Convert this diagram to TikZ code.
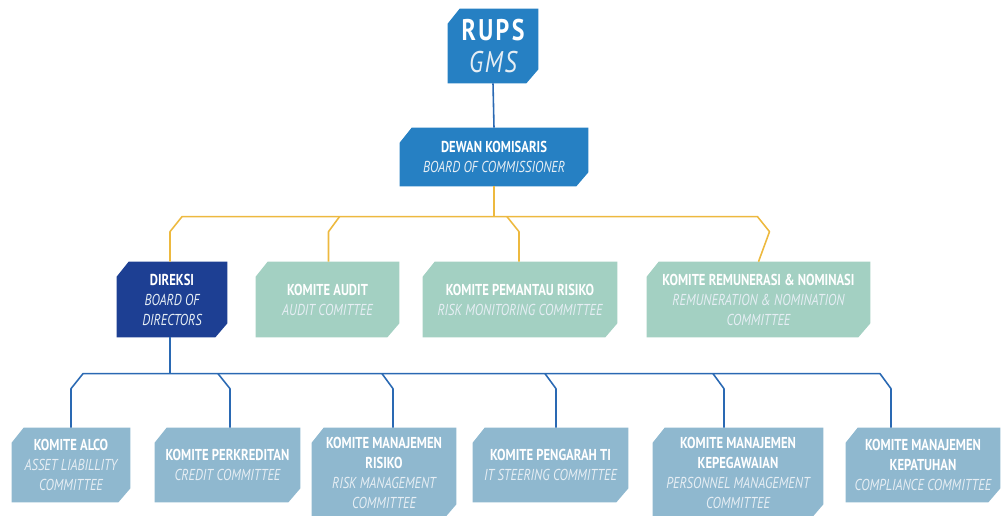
\documentclass[tikz,border=0pt]{standalone}
\usepackage{fontspec}
\setmainfont{PT Sans}[FakeStretch=0.8]
\usepackage{xcolor}
\usetikzlibrary{calc,backgrounds}
\definecolor{gms}{HTML}{2680C3}
\definecolor{dir}{HTML}{1D3F93}
\definecolor{teal}{HTML}{A3D0C2}
\definecolor{steel}{HTML}{8FB8CF}
\definecolor{gold}{HTML}{EDB93F}
\definecolor{wire}{HTML}{2A69B3}
\definecolor{soft}{HTML}{E6EEF4}
\newcommand{\hd}{\bfseries}
\newcommand{\engl}{\mdseries\itshape\color{soft}}
\newcommand{\chamf}[2]{%
  \begin{scope}[on background layer]
    \fill[#2] ($(#1.north west)+(0,15)$) -- ($(#1.north west)+(12,0)$) -- (#1.north east)
      -- ($(#1.south east)+(0,-14)$) -- ($(#1.south east)+(-12,0)$) -- (#1.south west) -- cycle;
  \end{scope}}
\tikzset{
  box/.style={inner sep=0pt, align=center, text=white, font=\fontsize{9}{11.4}\selectfont},
  up/.style={box, minimum height=1.5cm},
  low/.style={box, minimum height=1.48cm},
  tall/.style={box, minimum height=1.8cm},
  ylink/.style={draw=gold, line width=0.9pt, line join=round},
  blink/.style={draw=wire, line width=0.9pt, line join=round},
}

\begin{document}
\begin{tikzpicture}[x=0.02cm, y=-0.02cm]
  \useasboundingbox (0,0) rectangle (1001,515);

  % top
  \node[box, minimum width=1.8cm, minimum height=1.48cm] (rups) at (493,46)
    {{\fontsize{17}{18}\selectfont\bfseries\addfontfeature{LetterSpace=8}RUPS}\\[5pt]
     {\fontsize{17}{18}\selectfont\itshape\color{soft}\addfontfeature{LetterSpace=6}GMS}};
  \node[box, minimum width=3.76cm, minimum height=1.16cm] (dk) at (494,157)
    {\hd DEWAN KOMISARIS\\ \engl BOARD OF COMMISSIONER};

  % second row
  \node[up, minimum width=2.2cm] (direksi) at (172,299.5)
    {\hd DIREKSI\\ \engl BOARD OF\\ \engl DIRECTORS};
  \node[up, minimum width=2.86cm] (audit) at (327.5,299.5)
    {\hd KOMITE AUDIT\\ \engl AUDIT COMITTEE};
  \node[up, minimum width=3.88cm] (pantau) at (520,299.5)
    {\hd KOMITE PEMANTAU RISIKO\\ \engl RISK MONITORING COMMITTEE};
  \node[up, minimum width=4.46cm] (remun) at (758.5,299.5)
    {\hd KOMITE REMUNERASI \& NOMINASI\\ \engl REMUNERATION \& NOMINATION\\ \engl COMMITTEE};

  % third row
  \node[low, minimum width=2.36cm] (alco) at (71,465)
    {\hd KOMITE ALCO\\ \engl ASSET LIABILLITY\\ \engl COMMITTEE};
  \node[low, minimum width=2.9cm] (kredit) at (227.5,465)
    {\hd KOMITE PERKREDITAN\\ \engl CREDIT COMMITTEE};
  \node[tall, minimum width=2.88cm] (risiko) at (384,473)
    {\hd KOMITE MANAJEMEN\\ \hd RISIKO\\ \engl RISK MANAGEMENT\\ \engl COMMITTEE};
  \node[low, minimum width=3.1cm] (ti) at (550.5,465)
    {\hd KOMITE PENGARAH TI\\ \engl IT STEERING COMMITTEE};
  \node[tall, minimum width=3.4cm] (pegawai) at (738,473)
    {\hd KOMITE MANAJEMEN\\ \hd KEPEGAWAIAN\\ \engl PERSONNEL MANAGEMENT\\ \engl COMMITTEE};
  \node[low, minimum width=3.08cm] (patuh) at (923,465)
    {\hd KOMITE MANAJEMEN\\ \hd KEPATUHAN\\ \engl COMPLIANCE COMMITTEE};

  \foreach \n/\c in {rups/gms, dk/gms, direksi/dir, audit/teal, pantau/teal, remun/teal,
      alco/steel, kredit/steel, risiko/steel, ti/steel, pegawai/steel, patuh/steel}
    \chamf{\n}{\c};

  % connectors
  \draw[blink] (rups.south) -- (dk.north);
  \coordinate (ybus) at (494,217);
  \draw[ylink] (dk.south) -- (ybus);
  \draw[ylink] ($(direksi.north)+(-2,0)$) -- ++(0,-30) -- ++(12,-15) -- ($(remun.north)+(-1,-45)$)
    -- ++(12,15) -- (remun.north);
  \draw[ylink] ($(audit.north)+(1,0)$) -- ++(0,-30) -- ++(11,-15);
  \draw[ylink] ($(pantau.north)+(-1,0)$) -- ++(0,-30) -- ++(-12,-15);

  \coordinate (bbus) at (170,374);
  \draw[blink] ($(direksi.south)+(-2,0)$) -- (bbus);
  \draw[blink] (alco.north) -- ++(0,-39) -- ++(12,-15) -- ($(patuh.north)+(-43,-54)$)
    -- ++(11,15) -- ($(patuh.north)+(-32,0)$);
  \draw[blink] ($(kredit.north)+(2.5,0)$) -- ++(0,-39) -- ++(-12,-15);
  \draw[blink] ($(risiko.north)+(9,0)$) -- ++(0,-39) -- ++(-11,-15);
  \draw[blink] ($(ti.north)+(5.5,0)$) -- ++(0,-39) -- ++(-11,-15);
  \draw[blink] ($(pegawai.north)+(-14,0)$) -- ++(0,-39) -- ++(-11,-15);
\end{tikzpicture}
\end{document}
